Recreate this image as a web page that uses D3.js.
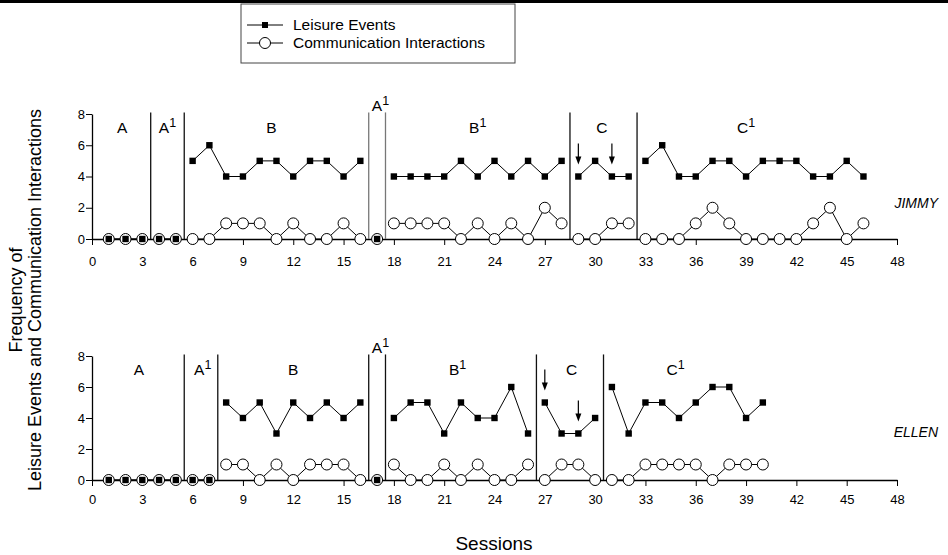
<!DOCTYPE html>
<head>
  <meta charset="utf-8">
  <script src="https://d3js.org/d3.v7.min.js"></script>
  <style>
    body { margin: 0; background: #fff; }
    * { font-family: "Liberation Sans", Arial, sans-serif; }
    .tick text { font-size: 13px; }
    .phase { font-size: 15.5px; text-anchor: middle; }
    .name { font-size: 14px; font-style: italic; text-anchor: end; }
  </style>
</head>
<body>
<div id="chart"></div>
<script>
  var width = 948;
  var height = 555;

  // sessions 1..46 for Jimmy, 1..40 for Ellen
  var jimmyLeisure = [0, 0, 0, 0, 0, 5, 6, 4, 4, 5, 5, 4, 5, 5, 4, 5, 0, 4, 4, 4, 4, 5, 4, 5, 4, 5, 4, 5, 4, 5, 4, 4, 5, 6, 4, 4, 5, 5, 4, 5, 5, 5, 4, 4, 5, 4];
  var jimmyComm = [0, 0, 0, 0, 0, 0, 0, 1, 1, 1, 0, 1, 0, 0, 1, 0, 0, 1, 1, 1, 1, 0, 1, 0, 1, 0, 2, 1, 0, 0, 1, 1, 0, 0, 0, 1, 2, 1, 0, 0, 0, 0, 1, 2, 0, 1];
  var jimmyBreaks = [3.5, 5.5, 16.5, 17.5, 28.5, 32.5];
  var jimmyPhases = ["A", "A1", "B", "A1", "B1", "C", "C1"];
  var jimmyLabelX = [1.8, 4.5, 10.7, 17.2, 23.0, 30.4, 39.0];
  var jimmyArrows = [29, 31];

  var ellenLeisure = [0, 0, 0, 0, 0, 0, 0, 5, 4, 5, 3, 5, 4, 5, 4, 5, 0, 4, 5, 5, 3, 5, 4, 4, 6, 3, 5, 3, 3, 4, 6, 3, 5, 5, 4, 5, 6, 6, 4, 5];
  var ellenComm = [0, 0, 0, 0, 0, 0, 0, 1, 1, 0, 1, 0, 1, 1, 1, 0, 0, 1, 0, 0, 1, 0, 1, 0, 0, 1, 0, 1, 1, 0, 0, 0, 1, 1, 1, 1, 0, 1, 1, 1];
  var ellenBreaks = [5.5, 7.5, 16.5, 17.5, 26.5, 30.5];
  var ellenPhases = ["A", "A1", "B", "A1", "B1", "C", "C1"];
  var ellenLabelX = [2.8, 6.6, 12.0, 17.2, 21.8, 28.6, 34.8];
  var ellenArrows = [27, 29];

  var xTicks = d3.range(0, 49, 3);
  var yTicks = [0, 2, 4, 6, 8];

  var svg = d3.select("#chart").append("svg")
    .attr("width", width)
    .attr("height", height);

  // black rule at the very top
  svg.append("rect").attr("x", 0).attr("y", 0).attr("width", width).attr("height", 3).attr("fill", "#000");

  var x = d3.scaleLinear().domain([0, 48]).range([92, 897]);

  function panel(top, bottom, leisure, comm, breaks, phases, labelX, arrows, name, nameY, pad, grey) {
    var y = d3.scaleLinear().domain([0, 8]).range([bottom, top]);
    var g = svg.append("g");

    g.append("g")
      .attr("transform", "translate(0," + bottom + ")")
      .call(d3.axisBottom(x).tickValues(xTicks).tickSize(6).tickPadding(pad).tickSizeOuter(0))
      .call(function(a) { a.select(".domain").attr("stroke-width", 1.3); });

    g.append("g")
      .attr("transform", "translate(" + x(0) + ",0)")
      .call(d3.axisLeft(y).tickValues(yTicks).tickSize(6).tickPadding(1).tickSizeOuter(0))
      .call(function(a) { a.select(".domain").attr("stroke-width", 1.3); });

    // phase change lines
    g.selectAll(".brk")
      .data(breaks)
      .enter().append("line")
      .attr("x1", function(d) { return x(d); })
      .attr("x2", function(d) { return x(d); })
      .attr("y1", y(0))
      .attr("y2", y(8.1))
      .attr("stroke", function(d, i) { return (grey && (i == 2 || i == 3)) ? "#777" : "#111"; })
      .attr("stroke-width", 1.3);

    // phase labels
    phases.forEach(function(p, i) {
      var ty = (i == 3) ? y(8) - 3 : y(8) + 19;
      var t = g.append("text").attr("class", "phase")
        .attr("x", x(labelX[i]))
        .attr("y", ty);
      t.append("tspan").text(p.charAt(0));
      if (p.length > 1) {
        t.append("tspan").attr("dy", -6).attr("font-size", 12.5).text(p.charAt(1));
      }
    });

    // split series into phase segments
    var edges = [0].concat(breaks).concat([99]);
    function segments(vals) {
      var segs = [];
      for (var k = 0; k < edges.length - 1; k++) {
        var s = [];
        vals.forEach(function(v, j) {
          var sess = j + 1;
          if (sess > edges[k] && sess < edges[k + 1]) s.push([sess, v]);
        });
        if (s.length) segs.push(s);
      }
      return segs;
    }

    var line = d3.line()
      .x(function(d) { return x(d[0]); })
      .y(function(d) { return y(d[1]); });

    g.selectAll(".cline")
      .data(segments(comm))
      .enter().append("path")
      .attr("d", line)
      .attr("fill", "none")
      .attr("stroke", "#000")
      .attr("stroke-width", 1);

    g.selectAll(".lline")
      .data(segments(leisure))
      .enter().append("path")
      .attr("d", line)
      .attr("fill", "none")
      .attr("stroke", "#000")
      .attr("stroke-width", 1);

    g.selectAll(".circ")
      .data(comm)
      .enter().append("circle")
      .attr("cx", function(d, i) { return x(i + 1); })
      .attr("cy", function(d) { return y(d); })
      .attr("r", 5.5)
      .attr("fill", "#fff")
      .attr("stroke", "#000")
      .attr("stroke-width", 1);

    g.selectAll(".sq")
      .data(leisure)
      .enter().append("rect")
      .attr("x", function(d, i) { return x(i + 1) - 3.2; })
      .attr("y", function(d) { return y(d) - 3.2; })
      .attr("width", 6.4)
      .attr("height", 6.4)
      .attr("fill", "#000");

    // arrows
    arrows.forEach(function(s) {
      var v = leisure[s - 1];
      var yTip = y(v) - 12;
      var yTail = yTip - 21;
      g.append("line")
        .attr("x1", x(s)).attr("x2", x(s))
        .attr("y1", yTail).attr("y2", yTip - 4)
        .attr("stroke", "#000").attr("stroke-width", 1.2);
      g.append("path")
        .attr("d", "M" + (x(s) - 3) + "," + (yTip - 8) + "L" + (x(s) + 3) + "," + (yTip - 8) + "L" + x(s) + "," + yTip + "Z")
        .attr("fill", "#000");
    });

    g.append("text").attr("class", "name")
      .attr("x", 938)
      .attr("y", y(nameY))
      .text(name);
  }

  panel(114, 239, jimmyLeisure, jimmyComm, jimmyBreaks, jimmyPhases, jimmyLabelX, jimmyArrows, "JIMMY", 2.0, 12, true);
  panel(356, 480, ellenLeisure, ellenComm, ellenBreaks, ellenPhases, ellenLabelX, ellenArrows, "ELLEN", 2.8, 9, false);

  // legend
  var legend = svg.append("g");
  legend.append("rect")
    .attr("x", 241).attr("y", 4).attr("width", 274).attr("height", 59)
    .attr("fill", "#fff").attr("stroke", "#444").attr("stroke-width", 1);
  var legendNames = ["Leisure Events", "Communication Interactions"];
  legendNames.forEach(function(n, i) {
    var ly = 25 + i * 18;
    legend.append("line").attr("x1", 247).attr("x2", 283).attr("y1", ly).attr("y2", ly)
      .attr("stroke", "#000").attr("stroke-width", 1);
    if (i == 0) {
      legend.append("rect").attr("x", 262).attr("y", ly - 3).attr("width", 6).attr("height", 6).attr("fill", "#000");
    } else {
      legend.append("circle").attr("cx", 265).attr("cy", ly).attr("r", 5.5).attr("fill", "#fff").attr("stroke", "#000");
    }
    legend.append("text").attr("x", 293).attr("y", ly + 5).attr("font-size", 15.5).text(n);
  });

  // axis titles
  var yTitle = svg.append("text")
    .attr("transform", "translate(22,300) rotate(-90)")
    .attr("text-anchor", "middle")
    .attr("font-size", 18);
  yTitle.append("tspan").attr("x", 0).attr("dy", 0).text("Frequency of");
  yTitle.append("tspan").attr("x", 0).attr("dy", 19).text("Leisure Events and Communication Interactions");

  svg.append("text")
    .attr("x", 494).attr("y", 550)
    .attr("text-anchor", "middle")
    .attr("font-size", 19)
    .text("Sessions");
</script>
</body>
